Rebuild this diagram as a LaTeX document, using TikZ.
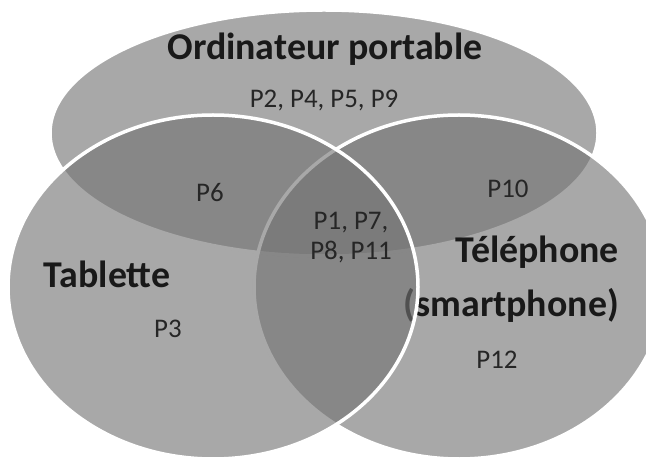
\documentclass[tikz,border=0pt]{standalone}
\usepackage{fontspec}
\setmainfont{Carlito}
\tikzset{
  set/.style={fill=black!55, fill opacity=0.62, draw=white, line width=3.5bp},
  setname/.style={anchor=base, inner sep=0pt, text=black!90, font=\fontsize{38}{42}\selectfont\bfseries},
  elem/.style={anchor=base, inner sep=0pt, text=black!85, font=\fontsize{27}{31}\selectfont}
}

\begin{document}
\begin{tikzpicture}[x=1bp,y=-1bp]
  \useasboundingbox (0,0) rectangle (646,460);
  \clip (0,0) rectangle (646,460);
  \coordinate (lap) at (324,133);
  \coordinate (tab) at (213,287);
  \coordinate (tel) at (459,287);
  \draw[set] (lap) ellipse [x radius=274, y radius=123];
  \draw[set] (tel) ellipse [x radius=205, y radius=172];
  \node[setname, anchor=base east] (telName) at (619,263) {Téléphone};
  \node[setname, anchor=base east] (telNameB) at (619,317) {(smartphone)};
  \draw[set] (tab) ellipse [x radius=205, y radius=172];
  \node[setname] (lapName) at (325,60) {Ordinateur portable};
  \node[setname] (tabName) at (107,288) {Tablette};
  \node[elem] (lapOnly) at (324,108) {P2, P4, P5, P9};
  \node[elem] (lapTab) at (210,202) {P6};
  \node[elem] (lapTel) at (508,198) {P10};
  \node[elem] (allA) at (351,230) {P1, P7,};
  \node[elem] (allB) at (351,260) {P8, P11};
  \node[elem] (tabOnly) at (168,337) {P3};
  \node[elem] (telOnly) at (497,368) {P12};
\end{tikzpicture}
\end{document}
